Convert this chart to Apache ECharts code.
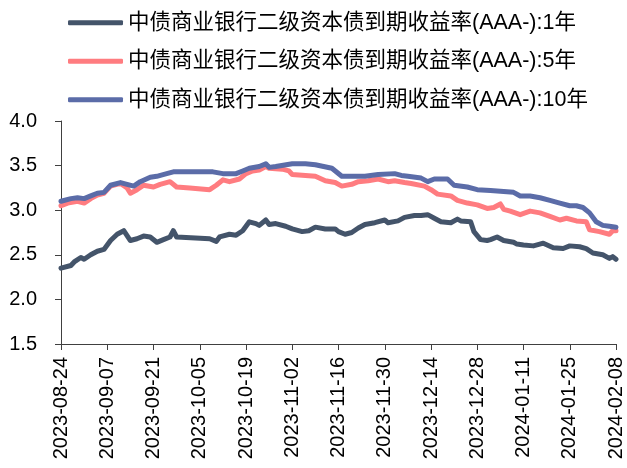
<!DOCTYPE html>
<html>
<head>
<meta charset="utf-8">
<script src="https://cdn.jsdelivr.net/npm/echarts@6/dist/echarts.min.js"></script>
<style>
  html, body { margin: 0; padding: 0; background: #fff; }
  #chart { width: 627px; height: 468px; }
</style>
</head>
<body>
<div id="chart"></div>
<script>
// 坐标轴刻度
const xTickLabels = ['2023-08-24', '2023-09-07', '2023-09-21', '2023-10-05', '2023-10-19', '2023-11-02', '2023-11-16',
  '2023-11-30', '2023-12-14', '2023-12-28', '2024-01-11', '2024-01-25', '2024-02-08']
const seriesNames = ['中债商业银行二级资本债到期收益率(AAA-):1年', '中债商业银行二级资本债到期收益率(AAA-):5年', '中债商业银行二级资本债到期收益率(AAA-):10年']

// 1年
const dates1Y = ['2023-08-24', '2023-08-27', '2023-08-28', '2023-08-30', '2023-08-31', '2023-09-02', '2023-09-04', '2023-09-06',
  '2023-09-08', '2023-09-10', '2023-09-12', '2023-09-14', '2023-09-16', '2023-09-18', '2023-09-20', '2023-09-22', '2023-09-24',
  '2023-09-26', '2023-09-27', '2023-09-28', '2023-10-08', '2023-10-10', '2023-10-11', '2023-10-14', '2023-10-16', '2023-10-18',
  '2023-10-20', '2023-10-22', '2023-10-23', '2023-10-25', '2023-10-26', '2023-10-28', '2023-10-31', '2023-11-02', '2023-11-05',
  '2023-11-07', '2023-11-09', '2023-11-12', '2023-11-15', '2023-11-16', '2023-11-18', '2023-11-20', '2023-11-22', '2023-11-24',
  '2023-11-27', '2023-11-30', '2023-12-01', '2023-12-04', '2023-12-06', '2023-12-09', '2023-12-11', '2023-12-13', '2023-12-15',
  '2023-12-17', '2023-12-20', '2023-12-22', '2023-12-23', '2023-12-26', '2023-12-27', '2023-12-29', '2023-12-31', '2024-01-01',
  '2024-01-03', '2024-01-05', '2024-01-08', '2024-01-09', '2024-01-11', '2024-01-14', '2024-01-17', '2024-01-20', '2024-01-23',
  '2024-01-25', '2024-01-28', '2024-01-30', '2024-02-01', '2024-02-04', '2024-02-06', '2024-02-07', '2024-02-08']
const yield1Y = [2.35, 2.38, 2.42, 2.47, 2.45, 2.50, 2.54, 2.56,
  2.66, 2.73, 2.77, 2.66, 2.68, 2.71, 2.70, 2.64, 2.67,
  2.70, 2.77, 2.70, 2.68, 2.65, 2.70, 2.73, 2.72, 2.77,
  2.87, 2.85, 2.83, 2.89, 2.84, 2.85, 2.82, 2.79, 2.76,
  2.77, 2.81, 2.79, 2.79, 2.76, 2.73, 2.75, 2.80, 2.84,
  2.86, 2.89, 2.86, 2.88, 2.92, 2.94, 2.94, 2.95, 2.91,
  2.87, 2.86, 2.90, 2.88, 2.87, 2.76, 2.67, 2.66, 2.67,
  2.70, 2.66, 2.64, 2.62, 2.61, 2.60, 2.63, 2.58, 2.57,
  2.60, 2.59, 2.57, 2.52, 2.50, 2.46, 2.48, 2.45]

// 5年
const dates5Y = ['2023-08-24', '2023-08-26', '2023-08-29', '2023-08-31', '2023-09-02', '2023-09-04', '2023-09-06', '2023-09-08',
  '2023-09-11', '2023-09-13', '2023-09-14', '2023-09-16', '2023-09-18', '2023-09-21', '2023-09-23', '2023-09-26', '2023-09-28',
  '2023-10-02', '2023-10-08', '2023-10-10', '2023-10-12', '2023-10-14', '2023-10-17', '2023-10-19', '2023-10-21', '2023-10-23',
  '2023-10-25', '2023-10-26', '2023-10-30', '2023-11-01', '2023-11-02', '2023-11-06', '2023-11-09', '2023-11-12', '2023-11-15',
  '2023-11-17', '2023-11-20', '2023-11-22', '2023-11-25', '2023-11-28', '2023-12-01', '2023-12-03', '2023-12-06', '2023-12-08',
  '2023-12-12', '2023-12-14', '2023-12-16', '2023-12-20', '2023-12-22', '2023-12-25', '2023-12-28', '2023-12-31', '2024-01-02',
  '2024-01-04', '2024-01-05', '2024-01-07', '2024-01-10', '2024-01-13', '2024-01-16', '2024-01-19', '2024-01-22', '2024-01-24',
  '2024-01-27', '2024-01-30', '2024-01-31', '2024-02-03', '2024-02-06', '2024-02-07', '2024-02-08']
const yield5Y = [3.05, 3.08, 3.10, 3.08, 3.13, 3.17, 3.19, 3.27,
  3.30, 3.25, 3.19, 3.23, 3.28, 3.26, 3.29, 3.32, 3.26,
  3.25, 3.23, 3.28, 3.34, 3.32, 3.35, 3.41, 3.44, 3.45,
  3.49, 3.47, 3.46, 3.44, 3.40, 3.39, 3.38, 3.33, 3.31,
  3.27, 3.29, 3.32, 3.33, 3.35, 3.32, 3.33, 3.31, 3.30,
  3.27, 3.23, 3.18, 3.16, 3.11, 3.08, 3.06, 3.02, 3.03,
  3.07, 3.01, 2.99, 2.95, 2.99, 2.97, 2.93, 2.89, 2.91,
  2.88, 2.87, 2.78, 2.76, 2.73, 2.77, 2.77]

// 10年
const dates10Y = ['2023-08-24', '2023-08-27', '2023-08-29', '2023-08-31', '2023-09-02', '2023-09-04', '2023-09-06', '2023-09-08',
  '2023-09-11', '2023-09-13', '2023-09-15', '2023-09-17', '2023-09-20', '2023-09-22', '2023-09-25', '2023-09-27', '2023-10-09',
  '2023-10-12', '2023-10-16', '2023-10-18', '2023-10-20', '2023-10-23', '2023-10-25', '2023-10-26', '2023-10-28', '2023-11-02',
  '2023-11-06', '2023-11-09', '2023-11-14', '2023-11-17', '2023-11-24', '2023-11-28', '2023-12-03', '2023-12-05', '2023-12-07',
  '2023-12-11', '2023-12-13', '2023-12-15', '2023-12-19', '2023-12-21', '2023-12-25', '2023-12-28', '2024-01-01', '2024-01-05',
  '2024-01-08', '2024-01-10', '2024-01-13', '2024-01-16', '2024-01-19', '2024-01-22', '2024-01-25', '2024-01-27', '2024-01-29',
  '2024-01-31', '2024-02-02', '2024-02-04', '2024-02-06', '2024-02-08']
const yield10Y = [3.10, 3.13, 3.14, 3.13, 3.16, 3.19, 3.20, 3.28,
  3.31, 3.29, 3.27, 3.32, 3.37, 3.38, 3.41, 3.43, 3.43,
  3.41, 3.41, 3.44, 3.47, 3.49, 3.52, 3.48, 3.49, 3.52,
  3.52, 3.51, 3.47, 3.38, 3.38, 3.40, 3.41, 3.39, 3.38,
  3.36, 3.32, 3.35, 3.35, 3.28, 3.26, 3.23, 3.22, 3.21,
  3.20, 3.16, 3.16, 3.14, 3.11, 3.08, 3.05, 3.05, 3.03,
  2.97, 2.87, 2.83, 2.82, 2.81]

const startDay = Date.parse(xTickLabels[0])
const toDay = (s) => (Date.parse(s) - startDay) / 86400000
const pairs = (dates, vals) => dates.map((d, i) => [toDay(d), vals[i]])

const colors = ['#44546a', '#ff7c80', '#5b6ca8']
const latin = '"Liberation Sans", Arial, "Noto Sans CJK SC", sans-serif'

const chart = echarts.init(document.getElementById('chart'))

const makeSeries = (name, data, color) => ({
  name,
  type: 'line',
  data,
  symbol: 'none',
  smooth: false,
  lineStyle: { color, width: 5, cap: 'round', join: 'round' },
  itemStyle: { color },
  emphasis: { disabled: true }
})

chart.setOption({
  backgroundColor: '#fff',
  animation: false,
  color: colors,
  legend: {
    orient: 'vertical',
    left: 63,
    top: 7,
    icon: 'roundRect',
    itemWidth: 55,
    itemHeight: 5,
    itemGap: 17,
    textStyle: { fontSize: 21.5, color: '#000', fontFamily: latin },
    data: seriesNames
  },
  grid: {
    left: 61,
    right: 11,
    top: 121,
    bottom: 124,
    outerBoundsMode: 'none'
  },
  xAxis: {
    type: 'value',
    min: 0,
    max: 168,
    interval: 14,
    splitLine: { show: false },
    axisLine: { lineStyle: { color: '#404040', width: 1 } },
    axisTick: { show: true, length: 6, lineStyle: { color: '#404040' } },
    axisLabel: {
      rotate: 90,
      margin: 13,
      fontSize: 20,
      color: '#000',
      fontFamily: latin,
      formatter: (v) => xTickLabels[Math.round(v / 14)] || ''
    }
  },
  yAxis: {
    type: 'value',
    min: 1.5,
    max: 4.0,
    interval: 0.5,
    splitLine: { show: false },
    axisLine: { show: true, lineStyle: { color: '#404040', width: 1 } },
    axisTick: { show: true, length: 6, lineStyle: { color: '#404040' } },
    axisLabel: {
      margin: 24,
      fontSize: 20,
      color: '#000',
      fontFamily: latin,
      formatter: (v) => v.toFixed(1)
    }
  },
  series: [
    makeSeries(seriesNames[0], pairs(dates1Y, yield1Y), colors[0]),
    makeSeries(seriesNames[1], pairs(dates5Y, yield5Y), colors[1]),
    makeSeries(seriesNames[2], pairs(dates10Y, yield10Y), colors[2])
  ]
})
</script>
</body>
</html>
